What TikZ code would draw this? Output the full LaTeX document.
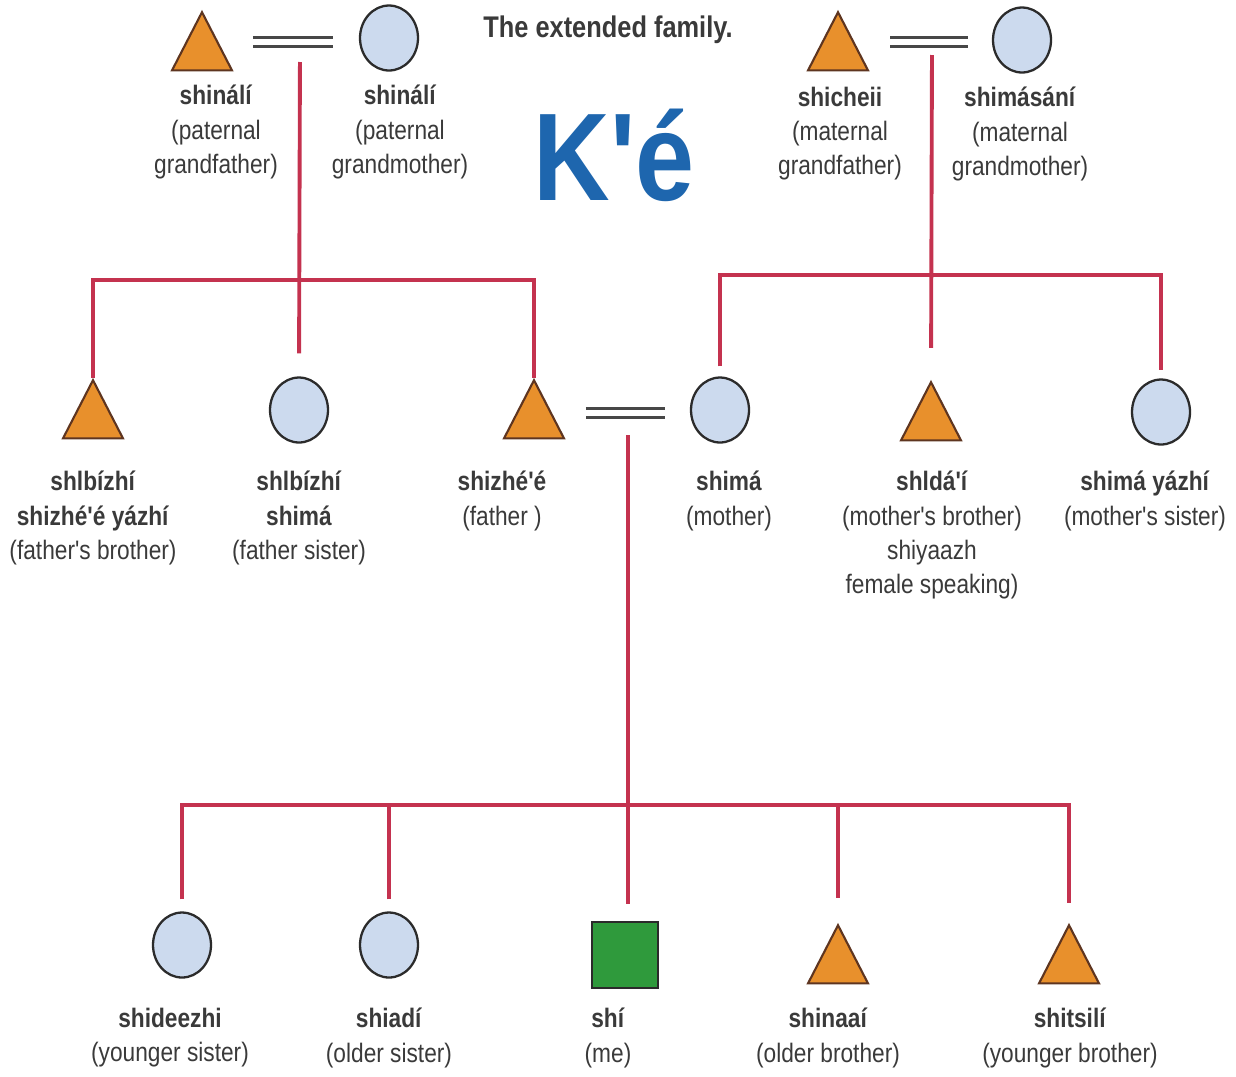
\documentclass[tikz,border=0pt]{standalone}
\usepackage{fontspec}
\setmainfont{Liberation Sans}[FakeStretch=0.85, Ligatures=TeXOff]
\usepackage{tikz}
\usetikzlibrary{shapes.geometric,positioning,calc}
\usepackage{xcolor}
\definecolor{orng}{HTML}{E8902C}
\definecolor{tribrd}{HTML}{5E3520}
\definecolor{skyb}{HTML}{CCDAEE}
\definecolor{ink}{HTML}{2B2B2B}
\definecolor{grn}{HTML}{2F9A3C}
\definecolor{kinred}{HTML}{C4324F}
\definecolor{wedgrey}{HTML}{474747}
\definecolor{keblue}{HTML}{1E66AE}
\definecolor{txt}{HTML}{3A3A3A}

\tikzset{
  male/.style={regular polygon, regular polygon sides=3, draw=tribrd, fill=orng, line width=1.2pt, minimum size=1.386cm, inner sep=0pt, yscale=1.12},
  female/.style={ellipse, draw=ink, fill=skyb, line width=1.3pt, minimum width=1.16cm, minimum height=1.3cm, inner sep=0pt},
  self/.style={rectangle, draw=ink, fill=grn, line width=1pt, minimum size=1.32cm, inner sep=0pt},
  lbl/.style={anchor=north, align=center, inner sep=0pt, text=txt, font=\fontsize{15.2}{19.4}\selectfont},
  kin/.style={draw=kinred, line width=2.2pt},
  wed/.style={draw=wedgrey, line width=1.5pt, double=white, double distance=3.6pt}
}

\begin{document}
\begin{tikzpicture}[x=0.02cm, y=-0.02cm]
            \useasboundingbox (0,0) rectangle (1236,1076);
            % Title
            \node[text=txt, font=\fontsize{17}{20}\selectfont\bfseries] (title) at (608,30) {The extended family.};
            \node[text=keblue, font=\fontsize{71}{71}\selectfont\bfseries] (ke) at (614,155) {K'é};
            
            % Grandparents
            \node[male] (gf1) at (202,51) {};
            \node[female] (gm1) at (389,38) {};
            \node[male] (gf2) at (838,51) {};
            \node[female] (gm2) at (1022,40) {};
            
            \node[lbl] (gf1-l) at (216,85) {\textbf{shinálí}\\(paternal\\grandfather)};
            \node[lbl] (gm1-l) at (400,85) {\textbf{shinálí}\\(paternal\\grandmother)};
            \node[lbl] (gf2-l) at (840,87) {\textbf{shicheii}\\(maternal\\grandfather)};
            \node[lbl] (gm2-l) at (1020,87) {\textbf{shimásání}\\(maternal\\grandmother)};
            
            % Parents' generation
            \node[male] (fb) at (93,419) {};
            \node[female] (fs) at (299,410) {};
            \node[male] (fa) at (534,419) {};
            \node[female] (mo) at (720,410) {};
            \node[male] (mb) at (931,421) {};
            \node[female] (ms) at (1161,412) {};
            
            \node[lbl] (fb-l) at (93,471) {\textbf{shlbízhí}\\\textbf{shizhé'é yázhí}\\(father's brother)};
            \node[lbl] (fs-l) at (299,471) {\textbf{shlbízhí}\\\textbf{shimá}\\(father sister)};
            \node[lbl] (fa-l) at (502,471) {\textbf{shizhé'é}\\(father )};
            \node[lbl] (mo-l) at (729,471) {\textbf{shimá}\\(mother)};
            \node[lbl] (mb-l) at (932,471) {\textbf{shldá'í}\\(mother's brother)\\shiyaazh\\female speaking)};
            \node[lbl] (ms-l) at (1145,471) {\textbf{shimá yázhí}\\(mother's sister)};
            
            % Siblings
            \node[female] (ys) at (182,945) {};
            \node[female] (os) at (389,945) {};
            \node[self] (me) at (625,955) {};
            \node[male] (ob) at (838,964) {};
            \node[male] (yb) at (1069,964) {};
            
            \node[lbl] (ys-l) at (170,1008) {\textbf{shideezhi}\\(younger sister)};
            \node[lbl] (os-l) at (389,1008) {\textbf{shiadí}\\(older sister)};
            \node[lbl] (me-l) at (608,1008) {\textbf{shí}\\(me)};
            \node[lbl] (ob-l) at (828,1008) {\textbf{shinaaí}\\(older brother)};
            \node[lbl] (yb-l) at (1070,1008) {\textbf{shitsilí}\\(younger brother)};
            
            % Marriages
            \coordinate (pw) at (300,42);
            \coordinate (mw) at (932,42);
            \coordinate (fw) at (628,413);
            \draw[wed, shorten <=1.02cm, shorten >=1.12cm] (gf1 |- pw) -- (gm1 |- pw);
            \draw[wed, shorten <=1.04cm, shorten >=1.08cm] (gf2 |- mw) -- (gm2 |- mw);
            \draw[wed, shorten <=1.04cm, shorten >=1.1cm] (fa |- fw) -- (mo |- fw);
            
            % Descent lines
            \coordinate (pbar) at (300,280);
            \coordinate (mbar) at (932,275);
            \coordinate (sbar) at (628,805);
            \draw[kin] (fb.north) |- (pbar) -| (fa.north);
            \draw[kin, shorten <=0.4cm, shorten >=0.46cm] (pw) -- (fs.north);
            \draw[kin, shorten <=0.2cm, shorten >=0.16cm] (mo.north) |- (mbar) -| (ms.north);
            \draw[kin, shorten <=0.26cm, shorten >=0.64cm] (mw) -- (mb.north);
            \draw[kin, shorten <=0.24cm, shorten >=0.4cm] (ys.north) |- (sbar) -| (yb.north);
            \draw[kin, shorten <=0.24cm] (os.north) -- (os.north |- sbar);
            \draw[kin, shorten <=0.5cm] (ob.north) -- (ob.north |- sbar);
            \draw[kin, shorten <=0.44cm, shorten >=0.34cm] (fw) -- (fw |- me.north);
        \end{tikzpicture}
\end{document}
